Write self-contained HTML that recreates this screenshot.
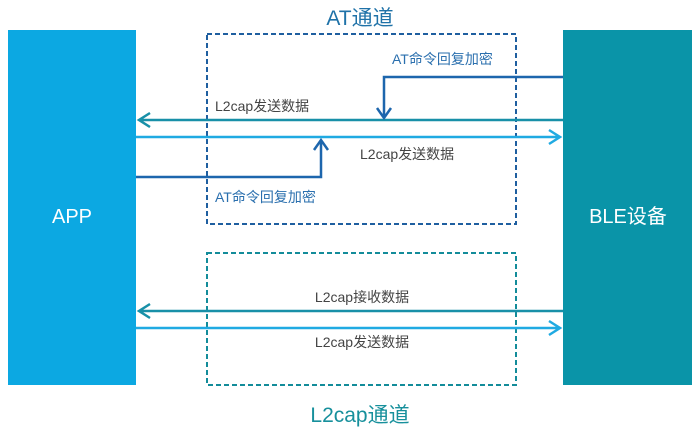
<!DOCTYPE html>
<html><head><meta charset="utf-8"><style>
body{margin:0;background:#fff;}
svg text{font-family:"Liberation Sans","Noto Sans CJK SC",sans-serif;}
</style></head><body>
<svg width="700" height="434" viewBox="0 0 700 434" xmlns="http://www.w3.org/2000/svg">
<rect x="8" y="30" width="128" height="355" fill="#0ca8e2"/>
<rect x="563" y="30" width="129" height="355" fill="#0a94a8"/>
<text x="72" y="223" fill="#fff" font-size="20" text-anchor="middle">APP</text>
<text x="628" y="223" fill="#fff" font-size="20" text-anchor="middle">BLE设备</text>
<text x="360" y="25" fill="#1f72a8" font-size="21" text-anchor="middle">AT通道</text>
<text x="360" y="422" fill="#17909c" font-size="21" text-anchor="middle">L2cap通道</text>
<rect x="207" y="34" width="309" height="190" fill="none" stroke="#1f5fa0" stroke-width="2" stroke-dasharray="5,3"/>
<rect x="207" y="253" width="309" height="132" fill="none" stroke="#138c9a" stroke-width="2" stroke-dasharray="5,3"/>
<g fill="none" stroke-width="2.5">
<path d="M563 120H139M150 113L139 120L150 127" stroke="#1890a8"/>
<path d="M136 137H560M549 130L560 137L549 144" stroke="#20aae2"/>
<path d="M563 77H384V117M377 108L384 118L391 108" stroke="#1d66ad"/>
<path d="M136 177H321V141M314 150L321 140L328 150" stroke="#1d66ad"/>
<path d="M563 311H139M150 304L139 311L150 318" stroke="#1890a8"/>
<path d="M136 328H560M549 321L560 328L549 335" stroke="#20aae2"/>
</g>
<g font-size="14">
<text x="392" y="64" fill="#2a6fae">AT命令回复加密</text>
<text x="215" y="111" fill="#444">L2cap发送数据</text>
<text x="360" y="159" fill="#444">L2cap发送数据</text>
<text x="215" y="202" fill="#2a6fae">AT命令回复加密</text>
<text x="362" y="302" fill="#444" text-anchor="middle">L2cap接收数据</text>
<text x="362" y="347" fill="#444" text-anchor="middle">L2cap发送数据</text>
</g>
</svg>
</body></html>
